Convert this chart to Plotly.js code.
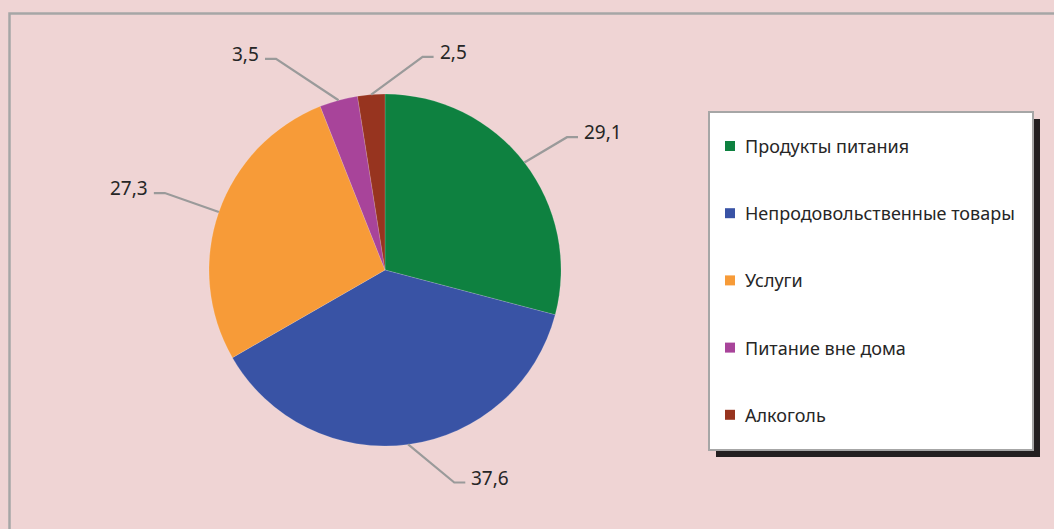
<!DOCTYPE html>
<html>
<head>
<meta charset="utf-8">
<script src="https://cdn.plot.ly/plotly-3.0.1.min.js"></script>
<style>html,body{margin:0;padding:0;background:#EFD4D4;}#chart{width:1054px;height:529px;}</style>
</head>
<body>
<div id="chart"></div>
<script>
// ---- data ----
const categories = ["Продукты питания", "Непродовольственные товары", "Услуги", "Питание вне дома", "Алкоголь"];
const values = [29.1, 37.6, 27.3, 3.5, 2.5];
const valueLabels = ["29,1", "37,6", "27,3", "3,5", "2,5"];
const colors = ["#0E8140", "#3953A5", "#F79B38", "#A8449A", "#97341F"];

// ---- layout constants ----
const W = 1054, H = 529;
const cx = 385, cy = 270, R = 176;
const labelAngleNudge = [1.5, -10.5, 0, -12, 14.5];   // degrees, label placement tweak
const labelRadius = [1.28, 1.27, 1.325, 1.35, 1.23];  // multiples of R
const px = x => x / W;
const py = y => 1 - y / H;
const FONT = '"Noto Sans", "Open Sans", sans-serif';

const shapes = [];
const annotations = [];

// chart frame
shapes.push({type:'rect', xref:'paper', yref:'paper', x0:px(9.5), y0:py(13.5), x1:px(1070), y1:py(545),
  line:{color:'#A6A6A6', width:2.5}, fillcolor:'rgba(0,0,0,0)', layer:'below'});

// leader lines and value labels computed from the values
const total = values.reduce((a,b)=>a+b,0);
let cum = 0;
values.forEach((v,i)=>{
  const mid = (cum + v/2) / total * 360;
  cum += v;
  const a = mid * Math.PI/180;
  const x0 = cx + R*Math.sin(a), y0 = cy - R*Math.cos(a);
  const a2 = (mid + labelAngleNudge[i]) * Math.PI/180;
  const ex = cx + R*labelRadius[i]*Math.sin(a2), ey = cy - R*labelRadius[i]*Math.cos(a2);
  const right = Math.sin(a2) >= 0;
  const hx = ex + (right ? 11 : -11);
  shapes.push({type:'path', xref:'paper', yref:'paper',
    path:`M ${px(x0)},${py(y0)} L ${px(ex)},${py(ey)} L ${px(hx)},${py(ey)}`,
    line:{color:'#9A9A9A', width:2.2}});
  annotations.push({xref:'paper', yref:'paper', x:px(hx + (right?4:-4)), y:py(ey-5),
    text:valueLabels[i], showarrow:false, xanchor: right?'left':'right', yanchor:'middle',
    font:{family:FONT, size:19, color:'#262626'}});
});

// legend box with shadow
const lx0 = 709, ly0 = 112, lx1 = 1033, ly1 = 450;
shapes.push({type:'rect', xref:'paper', yref:'paper', x0:px(lx0+7), y0:py(ly0+7), x1:px(lx1+7), y1:py(ly1+7),
  line:{width:0}, fillcolor:'#231F20'});
shapes.push({type:'rect', xref:'paper', yref:'paper', x0:px(lx0), y0:py(ly0), x1:px(lx1), y1:py(ly1),
  line:{color:'#A6A6A6', width:2}, fillcolor:'#FFFFFF'});
categories.forEach((c,i)=>{
  const yy = 146 + i*67.2;
  shapes.push({type:'rect', xref:'paper', yref:'paper', x0:px(725), y0:py(yy-5), x1:px(735), y1:py(yy+5),
    line:{width:0}, fillcolor:colors[i]});
  annotations.push({xref:'paper', yref:'paper', x:px(743), y:py(yy), text:c, showarrow:false,
    xanchor:'left', yanchor:'middle',
    font:{family:FONT, size:18, color:'#262626'}});
});

const trace = {
  type:'pie', values:values, labels:categories, sort:false, direction:'clockwise', rotation:0,
  marker:{colors:colors, line:{color:'rgba(255,255,255,0.3)', width:0.5}},
  textinfo:'none', hoverinfo:'label+value', showlegend:false,
  domain:{x:[px(cx-R), px(cx+R)], y:[py(cy+R), py(cy-R)]}
};

const layout = {
  width:W, height:H, margin:{l:0,r:0,t:0,b:0},
  paper_bgcolor:'#EFD4D4', plot_bgcolor:'#EFD4D4',
  showlegend:false, shapes:shapes, annotations:annotations
};
Plotly.newPlot('chart', [trace], layout, {displayModeBar:false, staticPlot:true});
</script>
</body>
</html>
